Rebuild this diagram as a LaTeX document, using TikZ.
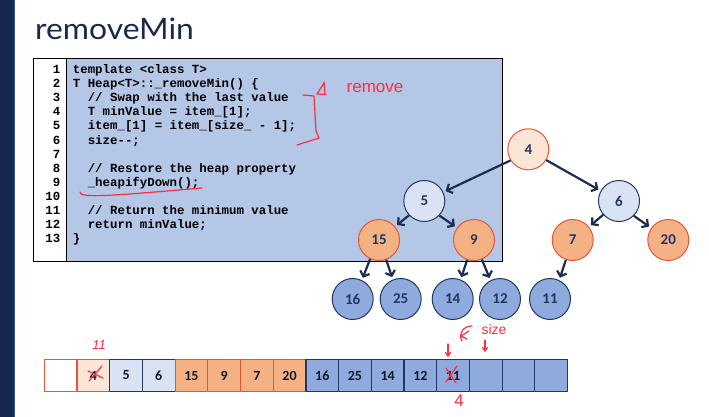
\documentclass[tikz,border=0pt]{standalone}
\usepackage{fontspec}
\setmainfont{Carlito}
\newfontfamily\titlefont{Lato}
\newfontfamily\codefont{Liberation Mono}
\newfontfamily\inkfont{Liberation Sans}
\usetikzlibrary{arrows.meta,calc}

\definecolor{barnavy}{HTML}{14294D}
\definecolor{barline}{HTML}{2F5597}
\definecolor{titlenavy}{HTML}{1B2A4A}
\definecolor{navy}{HTML}{1F3864}
\definecolor{edgenavy}{HTML}{1C2D50}
\definecolor{codebg}{HTML}{B4C7E7}
\definecolor{peach}{HTML}{FBE5D6}
\definecolor{orangefill}{HTML}{F4B183}
\definecolor{orangeline}{HTML}{E8543A}
\definecolor{paleblue}{HTML}{DAE3F3}
\definecolor{midblue}{HTML}{8FAADC}
\definecolor{inkred}{HTML}{FF2D3F}
\definecolor{celltext}{HTML}{111827}

\tikzset{
  treenode/.style={circle, minimum size=41pt, inner sep=0pt, line width=1pt,
    font=\bfseries\fontsize{15}{15}\selectfont, text=navy},
  rootnode/.style={treenode, fill=peach, draw=orangeline},
  palenode/.style={treenode, fill=paleblue, draw=navy},
  orangenode/.style={treenode, fill=orangefill, draw=orangeline},
  leafnode/.style={treenode, fill=midblue, draw=navy},
  treeedge/.style={draw=edgenavy, line width=2.2pt,
    -{Straight Barb[length=4.5pt,width=10pt]}, shorten >=2.5pt},
  cell/.style={rectangle, minimum width=32.7pt, minimum height=32.4pt, inner sep=0pt,
    line width=1.2pt, font=\bfseries\fontsize{14}{14}\selectfont, text=celltext},
  cellempty/.style={cell, fill=white, draw=orangeline},
  cellpeach/.style={cell, fill=peach, draw=orangeline},
  cellpale/.style={cell, fill=paleblue, draw=navy},
  cellorange/.style={cell, fill=orangefill, draw=orangeline},
  cellblue/.style={cell, fill=midblue, draw=navy},
  codeline/.style={anchor=base west, inner sep=0pt,
    font=\codefont\bfseries\fontsize{12.4}{12.4}\selectfont},
  lineno/.style={anchor=base east, inner sep=0pt,
    font=\codefont\bfseries\fontsize{12.4}{12.4}\selectfont},
  ink/.style={draw=inkred, line width=1.2pt, line cap=round, line join=round},
  inktext/.style={text=inkred, inner sep=0pt, font=\inkfont\fontsize{15}{15}\selectfont},
}

\begin{document}
\begin{tikzpicture}[x=1pt,y=-1pt]
\useasboundingbox (0,0) rectangle (709,417);

% side bar
\fill[barnavy] (0,0) rectangle (14,417);
\fill[barline] (14,0) rectangle (15.2,417);

% title
\node[anchor=base west, inner sep=0pt, text=titlenavy, xscale=1.08,
  font=\titlefont\fontsize{29.5}{29.5}\selectfont] (title) at (35,39.3) {removeMin};

% code listing
\fill[white] (33,59) rectangle (66,261);
\fill[codebg] (66,59) rectangle (502,261);
\draw[black, line width=1pt] (33,59) rectangle (502,261);
\draw[black, line width=1pt] (66,59) -- (66,261);

\foreach \i in {1,...,13}
  \node[lineno] (ln\i) at (60.5,{73.6+(\i-1)*14.08}) {\i};

\node[codeline] (code1)  at (72.7,73.6)  {template <class T>};
\node[codeline] (code2)  at (72.7,87.7)  {T Heap<T>::\_removeMin() \{};
\node[codeline] (code3)  at (87.6,101.8) {// Swap with the last value};
\node[codeline] (code4)  at (87.6,115.8) {T minValue = item\_[1];};
\node[codeline] (code5)  at (87.6,129.9) {item\_[1] = item\_[size\_ - 1];};
\node[codeline] (code6)  at (87.6,144.0) {size-{}-;};
\node[codeline] (code8)  at (87.6,172.2) {// Restore the heap property};
\node[codeline] (code9)  at (87.6,186.3) {\_heapifyDown();};
\node[codeline] (code11) at (87.6,214.4) {// Return the minimum value};
\node[codeline] (code12) at (87.6,228.5) {return minValue;};
\node[codeline] (code13) at (72.7,242.6) {\}};

% heap as a tree
\node[rootnode]   (n4)  at (528.3,149.3) {4};
\node[palenode]   (n5)  at (424.3,201)   {5};
\node[palenode]   (n6)  at (619,201)     {6};
\node[orangenode] (n15) at (379,240)     {15};
\node[orangenode] (n9)  at (474,240)     {9};
\node[orangenode] (n7)  at (572.7,240)   {7};
\node[orangenode] (n20) at (668.3,240)   {20};
\node[leafnode]   (n16) at (352.7,299)   {16};
\node[leafnode]   (n25) at (400.7,299)   {25};
\node[leafnode]   (n14) at (452.7,299)   {14};
\node[leafnode]   (n12) at (500,299)     {12};
\node[leafnode]   (n11) at (550,299)     {11};

\draw[treeedge] (n4.212)  -- (n5.25);
\draw[treeedge] (n4.329)  -- (n6.151);
\draw[treeedge] (n5.223)  -- (n15.40);
\draw[treeedge] (n5.316)  -- (n9.144);
\draw[treeedge] (n6.221)  -- (n7.39);
\draw[treeedge] (n6.315)  -- (n20.145);
\draw[treeedge] (n15.245) -- (n16.64);
\draw[treeedge] (n15.290) -- (n25.112);
\draw[treeedge] (n9.251)  -- (n14.68);
\draw[treeedge] (n9.292)  -- (n12.117);
\draw[treeedge] (n7.251)  -- (n11.64);

% heap as an array
\foreach \v/\s [count=\k from 0] in
  {/cellempty, 4/cellpeach, 5/cellpale, 6/cellpale,
   15/cellorange, 9/cellorange, 7/cellorange, 20/cellorange,
   16/cellblue, 25/cellblue, 14/cellblue, 12/cellblue,
   11/cellblue, /cellblue, /cellblue, /cellblue}
  \node[\s] (c\k) at ({44.3+32.7*(\k+0.5)},375.5) {\v};

% handwritten notes
\draw[ink] (80,192) .. controls (78,199) and (120,195) .. (202,188);
\draw[ink] (303,95) -- (314,96) -- (316,131) -- (319,138) -- (297,145);
\draw[ink] (324,82) -- (325,95);
\draw[ink] (324,83) -- (317,94) -- (326,94.5);
\node[inktext, font=\inkfont\fontsize{17}{17}\selectfont] (remove) at (375,88) {remove};

\node[inktext, font=\inkfont\itshape\fontsize{13}{13}\selectfont] (eleven) at (99,345) {11};
\draw[ink] (102,366) -- (89,381);
\draw[ink] (88,371) -- (103,378);

\node[inktext, font=\inkfont\fontsize{14}{14}\selectfont] (size) at (494,329) {size};
\draw[ink] (472,326) .. controls (463,326) and (458,334) .. (462,341);
\draw[ink] (469,331) -- (461,336) -- (467,339);
\draw[ink] (448,344) -- (448,356);
\draw[ink] (445.5,352.5) -- (448,356) -- (450.5,352.5);
\draw[ink] (485,340) -- (485,351);
\draw[ink] (482.5,347.5) -- (485,351) -- (487.5,347.5);

\draw[ink] (446,368) -- (456,383);
\draw[ink] (457,366) -- (446,382);
\node[inktext, font=\inkfont\fontsize{17}{17}\selectfont] (four) at (459,401) {4};
\end{tikzpicture}
\end{document}
